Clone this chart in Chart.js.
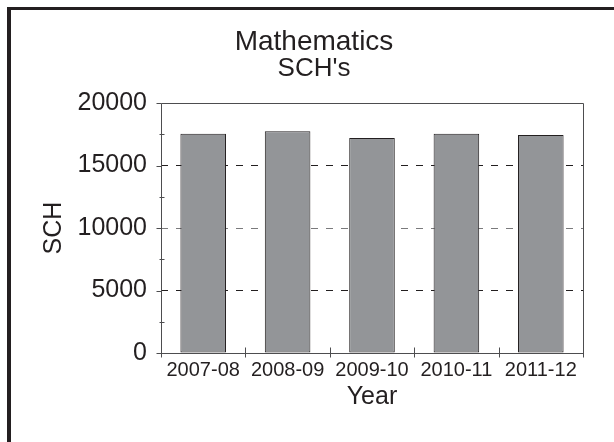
<!DOCTYPE html>
<html>
<head>
<meta charset="utf-8">
<script src="https://cdn.jsdelivr.net/npm/chart.js@4/dist/chart.umd.min.js"></script>
<style>
    body { margin: 0; background: #fff; }
    #wrap { width: 614px; height: 442px; }
</style>
</head>
<body>
<div id="wrap"><canvas id="schChart" width="614" height="442"></canvas></div>
<script>
const years = ['2007-08', '2008-09', '2009-10', '2010-11', '2011-12'];
const schValues = [17550, 17750, 17200, 17550, 17450];
const yMin = 0;
const yMax = 20000;
const yStep = 5000;

const ink = '#231f20';
const axisGray = '#4d4d4f';
const fontFamily = '"Liberation Sans", Arial, Helvetica, sans-serif';

// outer frame, plot box, and the tick marks that cross the axes
const axisMarks = {
    id: 'axisMarks',
    beforeDraw(chart) {
        const ctx = chart.ctx;
        ctx.save();
        ctx.fillStyle = '#fff';
        ctx.fillRect(0, 0, chart.width, chart.height);
        ctx.fillStyle = ink;
        ctx.fillRect(7, 7, chart.width, 3);
        ctx.fillRect(7, 7, 4, chart.height);
        ctx.restore();
    },
    afterDatasetsDraw(chart) {
        const { ctx, chartArea: a, scales: { x, y } } = chart;
        const L = Math.round(a.left) + 0.5;
        const R = Math.round(a.right) + 0.5;
        const T = Math.round(a.top) + 0.5;
        const B = Math.round(a.bottom) + 0.5;
        ctx.save();
        ctx.strokeStyle = axisGray;
        ctx.lineWidth = 1;
        ctx.beginPath();
        ctx.moveTo(L, T); ctx.lineTo(R, T); ctx.lineTo(R, B); ctx.lineTo(L, B); ctx.closePath();

        // y major and minor ticks
        y.ticks.forEach(t => {
            const py = Math.round(y.getPixelForValue(t.value)) + 0.5;
            ctx.moveTo(L - 5, py); ctx.lineTo(L, py);
            const mid = t.value + yStep / 2;
            if (mid < yMax) {
                const pm = Math.round(y.getPixelForValue(mid)) + 0.5;
                ctx.moveTo(L - 2, pm); ctx.lineTo(L + 3, pm);
            }
        });

        // x ticks between categories
        for (let i = 0; i <= years.length; i++) {
            const px = Math.round(x.getPixelForValue(i - 0.5)) + 0.5;
            ctx.moveTo(px, B - 6); ctx.lineTo(px, B + 4);
        }
        ctx.stroke();
        ctx.restore();
    }
};

const ctx = document.getElementById('schChart').getContext('2d');
const chart = new Chart(ctx, {
    type: 'bar',
    data: {
        labels: years,
        datasets: [{
            label: 'SCH',
            data: schValues,
            backgroundColor: '#939598',
            borderColor: ink,
            borderWidth: 1,
            borderSkipped: false,
            barPercentage: 0.54,
            categoryPercentage: 1
        }]
    },
    options: {
        responsive: false,
        animation: false,
        layout: {
            padding: { left: 45, right: 31, top: 0, bottom: 0 }
        },
        plugins: {
            legend: { display: false },
            tooltip: { enabled: false },
            title: {
                display: true,
                text: 'Mathematics',
                color: ink,
                font: { family: fontFamily, size: 28, weight: 'normal', lineHeight: 1 },
                padding: { top: 28, bottom: 0 }
            },
            subtitle: {
                display: true,
                text: "SCH's",
                color: ink,
                font: { family: fontFamily, size: 26, weight: 'normal', lineHeight: 1 },
                padding: { top: 0, bottom: 21 }
            }
        },
        scales: {
            x: {
                grid: { display: false, drawTicks: false },
                border: { display: false },
                ticks: {
                    color: ink,
                    padding: 5,
                    maxRotation: 0,
                    autoSkip: false,
                    font: { family: fontFamily, size: 20 }
                },
                title: {
                    display: true,
                    text: 'Year',
                    color: ink,
                    font: { family: fontFamily, size: 25, lineHeight: 1 },
                    padding: { top: 0, bottom: 32.5 }
                },
                afterFit(scale) {
                    scale.height = 89;
                }
            },
            y: {
                min: yMin,
                max: yMax,
                grid: {
                    drawTicks: false,
                    lineWidth: 1,
                    color: c => {
                        const v = c.tick ? c.tick.value : null;
                        if (v === yMin || v === yMax) return 'rgba(0,0,0,0)';
                        return v === 10000 ? '#7a7a7c' : ink;
                    }
                },
                border: { display: false, dash: [7, 8] },
                ticks: {
                    stepSize: yStep,
                    color: ink,
                    padding: 14,
                    font: { family: fontFamily, size: 25 },
                    callback: v => String(v)
                },
                title: {
                    display: true,
                    text: 'SCH',
                    color: ink,
                    font: { family: fontFamily, size: 25, lineHeight: 0.72 },
                    padding: 0
                },
                afterFit(scale) {
                    scale.width = 116;
                }
            }
        }
    },
    plugins: [axisMarks]
});
</script>
</body>
</html>
